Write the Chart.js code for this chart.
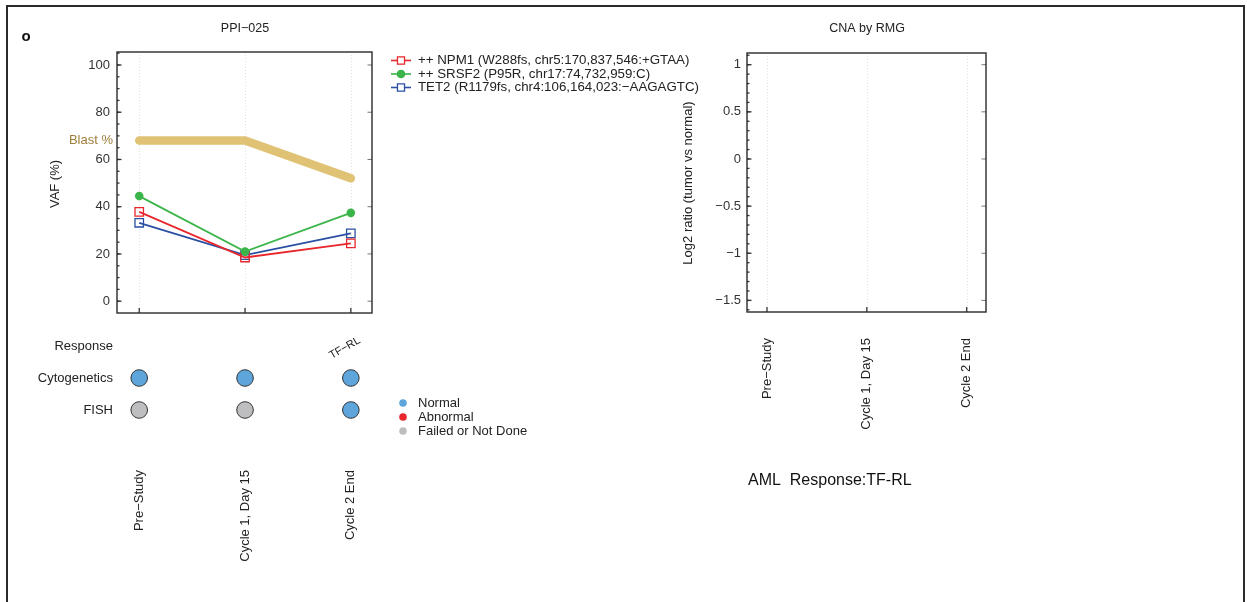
<!DOCTYPE html>
<html>
<head>
<meta charset="utf-8">
<script src="https://cdn.jsdelivr.net/npm/chart.js@4/dist/chart.umd.min.js"></script>
<style>
html, body { margin: 0; padding: 0; background: #fff; width: 1247px; height: 602px; overflow: hidden; }
#frame { position: absolute; left: 6px; top: 5px; width: 1239px; height: 640px; border: 2px solid #2a2a2a; box-sizing: border-box; }
canvas { position: absolute; }
</style>
</head>
<body>
<div id="frame"></div>
<canvas id="cA" width="720" height="330" style="left:0px;top:0px"></canvas>
<canvas id="cB" width="560" height="272" style="left:0px;top:330px"></canvas>
<canvas id="cC" width="420" height="500" style="left:620px;top:0px"></canvas>
<script>
// ---------- data ----------
const categories = ['Pre\u2212Study', 'Cycle 1, Day 15', 'Cycle 2 End'];
const blastPct = [68, 68, 52];
const npm1Vaf = [37.8, 18.5, 24.5];
const srsf2Vaf = [44.5, 21.0, 37.4];
const tet2Vaf = [33.2, 19.5, 28.7];
const mutationLabels = [
  '++ NPM1 (W288fs, chr5:170,837,546:+GTAA)',
  '++ SRSF2 (P95R, chr17:74,732,959:C)',
  'TET2 (R1179fs, chr4:106,164,023:\u2212AAGAGTC)'
];
const annotationRows = ['Response', 'Cytogenetics', 'FISH'];
const responseCalls = ['', '', 'TF\u2212RL'];
const cytogenetics = ['Normal', 'Normal', 'Normal'];
const fish = ['Failed or Not Done', 'Failed or Not Done', 'Normal'];
const statusLabels = ['Normal', 'Abnormal', 'Failed or Not Done'];
const cnaSegments = [];   // no CNA data in this panel
const panelTitleLeft = 'PPI\u2212025';
const panelTitleRight = 'CNA by RMG';
const footerText = 'AML  Response:TF-RL';

// ---------- styles ----------
const FONT = "'Liberation Sans', Arial, Helvetica, sans-serif";
Chart.defaults.font.family = FONT;
Chart.defaults.font.size = 13;
Chart.defaults.color = '#333';
const statusColors = { 'Normal': '#5DA5DA', 'Abnormal': '#E8262B', 'Failed or Not Done': '#BEBEC0' };
const xIdx = categories.map((c, i) => i);
const pts = arr => arr.map((v, i) => ({ x: i, y: v }));
const minus = v => (v < 0 ? '\u2212' + String(Math.abs(v)) : String(v));

// frame / ticks plugin (uses the chart's own scales)
const framePlugin = {
  id: 'frame',
  beforeDatasetsDraw(chart, args, o) {
    if (!o || !o.on) return;
    const { ctx, chartArea: a, scales: { x } } = chart;
    ctx.save();
    ctx.strokeStyle = '#e2e2e2'; ctx.lineWidth = 1; ctx.setLineDash([1, 2]);
    xIdx.forEach(v => {
      const px = Math.round(x.getPixelForValue(v)) + 0.5;
      ctx.beginPath(); ctx.moveTo(px, a.top); ctx.lineTo(px, a.bottom); ctx.stroke();
    });
    ctx.restore();
  },
  afterDraw(chart, args, o) {
    if (!o || !o.on) return;
    const { ctx, chartArea: a, scales: { x, y } } = chart;
    ctx.save();
    ctx.strokeStyle = '#333'; ctx.lineWidth = 1.3;
    const step = o.minorStep;
    for (let k = Math.ceil(y.min / step); k * step <= y.max + 1e-9; k++) {
      const v = k * step;
      const py = y.getPixelForValue(v);
      if (py <= a.top + 1 || py >= a.bottom - 1) continue;
      ctx.beginPath(); ctx.moveTo(a.left, py); ctx.lineTo(a.left + 2.5, py); ctx.stroke();
    }
    y.ticks.forEach(t => {
      const py = y.getPixelForValue(t.value);
      ctx.beginPath(); ctx.moveTo(a.left, py); ctx.lineTo(a.left + 4.5, py); ctx.stroke();
      ctx.save(); ctx.strokeStyle = '#777'; ctx.lineWidth = 1;
      ctx.beginPath(); ctx.moveTo(a.right, py); ctx.lineTo(a.right - 4.5, py); ctx.stroke();
      ctx.restore();
    });
    xIdx.forEach(v => {
      const px = x.getPixelForValue(v);
      ctx.beginPath(); ctx.moveTo(px, a.bottom); ctx.lineTo(px, a.bottom - 5); ctx.stroke();
    });
    ctx.lineWidth = 1.4; ctx.strokeStyle = '#2a2a2a';
    ctx.strokeRect(a.left, a.top, a.right - a.left, a.bottom - a.top);
    ctx.restore();
  }
};

function txt(ctx, s, x, y, opt) {
  ctx.save();
  ctx.font = (opt.weight || '') + ' ' + (opt.size || 13) + 'px ' + FONT;
  ctx.fillStyle = opt.color || '#222';
  ctx.textAlign = opt.align || 'left';
  ctx.textBaseline = 'middle';
  ctx.translate(x, y);
  if (opt.rot) ctx.rotate(opt.rot);
  ctx.fillText(s, 0, 0);
  ctx.restore();
}

// ---------- Chart A : VAF panel ----------
const extrasA = {
  id: 'extrasA',
  afterDraw(chart) {
    const { ctx, scales: { y } } = chart;
    txt(ctx, 'o', 26, 37, { size: 15, weight: 'bold', align: 'center', color: '#111' });
    txt(ctx, panelTitleLeft, 245, 29, { size: 12.5, align: 'center' });
    txt(ctx, 'VAF (%)', 55, 184, { size: 13, align: 'center', rot: -Math.PI / 2 });
    txt(ctx, 'Blast %', 113, y.getPixelForValue(blastPct[0]), { size: 13, align: 'right', color: '#9E7E3A' });
    chart.data.datasets.slice(1).forEach((ds, i) => {
      const ly = 60.5 + i * 13.5;
      ctx.save();
      ctx.strokeStyle = ds.borderColor; ctx.lineWidth = 1.6;
      ctx.beginPath(); ctx.moveTo(391, ly); ctx.lineTo(411, ly); ctx.stroke();
      ctx.lineWidth = 1.3;
      ctx.fillStyle = ds.pointStyle === 'rect' ? '#fff' : ds.pointBackgroundColor;
      Chart.helpers.drawPoint(ctx, { pointStyle: ds.pointStyle, radius: ds.legendRadius, borderWidth: 1.3 }, 401, ly);
      ctx.restore();
      txt(ctx, ds.label, 418, ly, { size: 13.3 });
    });
  }
};

new Chart(document.getElementById('cA'), {
  type: 'line',
  data: {
    datasets: [
      { label: 'Blast %', data: pts(blastPct), borderColor: '#E0C275', borderWidth: 8.5,
        borderCapStyle: 'round', borderJoinStyle: 'round', pointRadius: 0, order: 10 },
      { label: mutationLabels[0], data: pts(npm1Vaf), borderColor: '#E8262B', borderWidth: 1.8,
        pointStyle: 'rect', pointRadius: 6, legendRadius: 5, pointBorderWidth: 1.3,
        pointBackgroundColor: 'rgba(255,255,255,0)', pointBorderColor: '#E8262B', order: 2 },
      { label: mutationLabels[1], data: pts(srsf2Vaf), borderColor: '#3BB54A', borderWidth: 1.8,
        pointStyle: 'circle', pointRadius: 4.3, legendRadius: 3.7, pointBorderWidth: 0,
        pointBackgroundColor: '#3BB54A', pointBorderColor: '#3BB54A', order: 1 },
      { label: mutationLabels[2], data: pts(tet2Vaf), borderColor: '#2A4FA3', borderWidth: 1.8,
        pointStyle: 'rect', pointRadius: 6, legendRadius: 5, pointBorderWidth: 1.3,
        pointBackgroundColor: 'rgba(255,255,255,0)', pointBorderColor: '#2A4FA3', order: 3 }
    ]
  },
  options: {
    responsive: false, animation: false, devicePixelRatio: 1,
    layout: { padding: { left: 0, right: 348, top: 52, bottom: 17 }, autoPadding: false },
    plugins: { legend: { display: false }, tooltip: { enabled: false }, frame: { on: true, minorStep: 5 } },
    scales: {
      x: { type: 'linear', min: -0.21, max: 2.2, ticks: { display: false }, grid: { display: false, drawTicks: false },
           border: { display: false }, afterFit: s => { s.height = 0; } },
      y: { type: 'linear', min: -5, max: 105.5, ticks: { stepSize: 20, includeBounds: false, padding: 7, color: '#333', font: { size: 13 } },
           grid: { display: false, drawTicks: false }, border: { display: false }, afterFit: s => { s.width = 117; } }
    }
  },
  plugins: [framePlugin, extrasA]
});

// ---------- Chart B : annotation rows ----------
const extrasB = {
  id: 'extrasB',
  afterDraw(chart) {
    const { ctx, scales: { x, y } } = chart;
    responseCalls.forEach((r, i) => {
      if (!r) return;
      txt(ctx, r, x.getPixelForValue(i) - 6, y.getPixelForValue(0) + 2, { size: 11, align: 'center', rot: -Math.PI / 6 });
    });
    statusLabels.forEach((s, i) => {
      const ly = 73 + i * 14;
      ctx.save(); ctx.fillStyle = statusColors[s];
      ctx.beginPath(); ctx.arc(403, ly, 3.8, 0, Math.PI * 2); ctx.fill(); ctx.restore();
      txt(ctx, s, 418, ly, { size: 13 });
    });
  }
};

new Chart(document.getElementById('cB'), {
  type: 'scatter',
  data: {
    datasets: [
      { label: 'Cytogenetics', data: cytogenetics.map((s, i) => ({ x: i, y: 1 })),
        pointBackgroundColor: cytogenetics.map(s => statusColors[s]), pointBorderColor: '#333',
        pointBorderWidth: 1, pointRadius: 8.3, clip: false },
      { label: 'FISH', data: fish.map((s, i) => ({ x: i, y: 2 })),
        pointBackgroundColor: fish.map(s => statusColors[s]), pointBorderColor: '#333',
        pointBorderWidth: 1, pointRadius: 8.3, clip: false }
    ]
  },
  options: {
    responsive: false, animation: false, devicePixelRatio: 1,
    layout: { padding: { left: 0, right: 188, top: 16, bottom: 0 }, autoPadding: false },
    plugins: { legend: { display: false }, tooltip: { enabled: false } },
    scales: {
      x: { type: 'linear', min: -0.21, max: 2.2,
           ticks: { stepSize: 1, includeBounds: false, minRotation: 90, maxRotation: 90, padding: 60, autoSkip: false,
                    color: '#222', font: { size: 13 }, callback: v => categories[v] },
           grid: { display: false, drawTicks: false }, border: { display: false }, afterFit: s => { s.height = 192; } },
      y: { type: 'linear', min: 0, max: 2, reverse: true,
           ticks: { stepSize: 1, padding: 4, color: '#222', font: { size: 13 }, callback: v => annotationRows[v] },
           grid: { display: false, drawTicks: false }, border: { display: false }, afterFit: s => { s.width = 117; } }
    }
  },
  plugins: [extrasB]
});

// ---------- Chart C : CNA panel ----------
const extrasC = {
  id: 'extrasC',
  afterDraw(chart) {
    const { ctx } = chart;
    txt(ctx, panelTitleRight, 247, 29, { size: 12.5, align: 'center' });
    txt(ctx, 'Log2 ratio (tumor vs normal)', 68, 183, { size: 13, align: 'center', rot: -Math.PI / 2 });
    txt(ctx, footerText, 128, 481, { size: 16, color: '#111' });
  }
};

new Chart(document.getElementById('cC'), {
  type: 'scatter',
  data: { datasets: [{ label: 'CNA', data: cnaSegments }] },
  options: {
    responsive: false, animation: false, devicePixelRatio: 1,
    layout: { padding: { left: 0, right: 54, top: 53, bottom: 0 }, autoPadding: false },
    plugins: { legend: { display: false }, tooltip: { enabled: false }, frame: { on: true, minorStep: 0.1 } },
    scales: {
      x: { type: 'linear', min: -0.2, max: 2.193,
           ticks: { stepSize: 1, includeBounds: false, minRotation: 90, maxRotation: 90, padding: 26, autoSkip: false,
                    color: '#222', font: { size: 13 }, callback: v => categories[v] },
           grid: { display: false, drawTicks: false }, border: { display: false }, afterFit: s => { s.height = 188; } },
      y: { type: 'linear', min: -1.623, max: 1.124,
           ticks: { stepSize: 0.5, includeBounds: false, padding: 6, color: '#333', font: { size: 13 }, callback: v => minus(v) },
           grid: { display: false, drawTicks: false }, border: { display: false }, afterFit: s => { s.width = 127; } }
    }
  },
  plugins: [framePlugin, extrasC]
});
</script>
</body>
</html>
